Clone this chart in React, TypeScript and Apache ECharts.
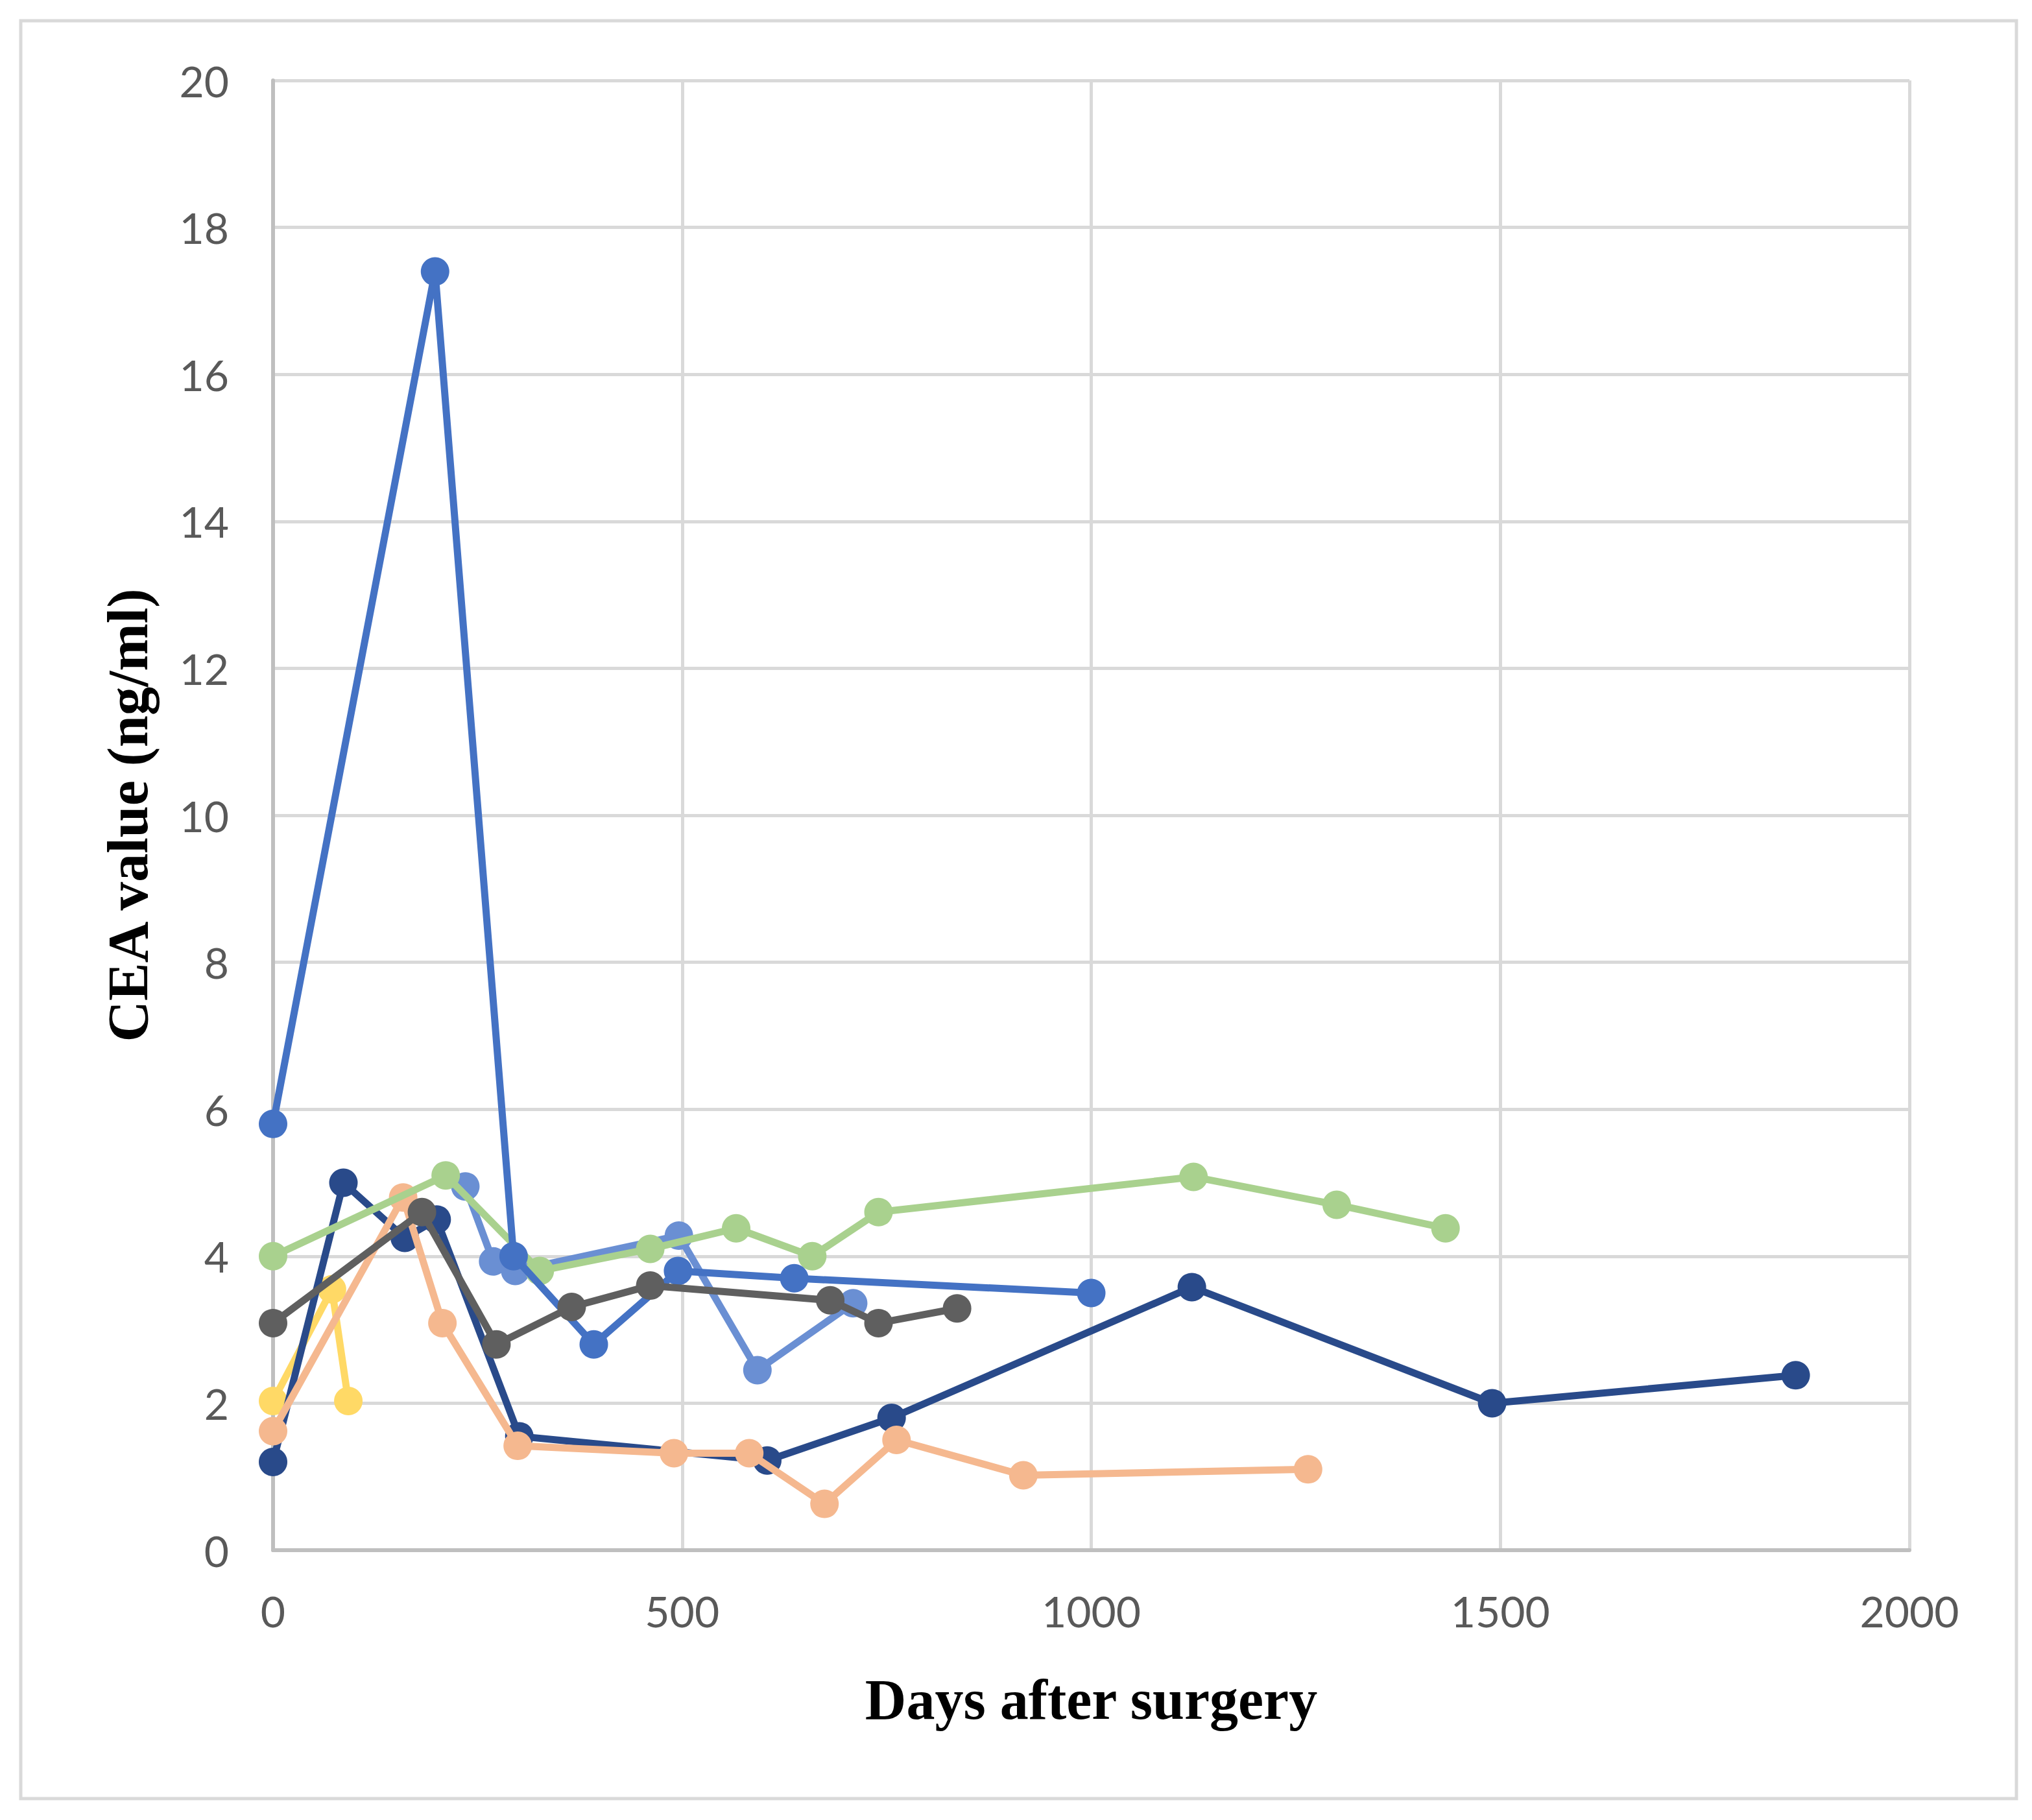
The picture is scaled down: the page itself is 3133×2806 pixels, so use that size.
import React, { useEffect, useRef } from "react";
import * as echarts from "echarts";

// Days after surgery / CEA values (ng/ml) per patient series
const yellowDays = [0, 72, 92];
const yellowVals = [2.03, 3.55, 2.03];

const lightBlueDays = [235, 269, 296, 496, 592, 709];
const lightBlueVals = [4.95, 3.93, 3.8, 4.28, 2.45, 3.36];

const darkBlueDays = [0, 86, 161, 200, 301, 604, 756, 1123, 1490, 1861];
const darkBlueVals = [1.2, 5.0, 4.25, 4.5, 1.55, 1.22, 1.8, 3.58, 2.0, 2.38];

const peachDays = [0, 159, 207, 299, 490, 582, 674, 762, 917, 1265];
const peachVals = [1.62, 4.8, 3.09, 1.42, 1.32, 1.32, 0.63, 1.5, 1.02, 1.1];

const greenDays = [0, 211, 326, 461, 566, 659, 740, 1125, 1300, 1433];
const greenVals = [4.0, 5.1, 3.8, 4.1, 4.38, 4.0, 4.6, 5.08, 4.7, 4.38];

const blueDays = [0, 198, 294, 392, 495, 637, 1000];
const blueVals = [5.8, 17.4, 4.0, 2.8, 3.8, 3.7, 3.5];

const grayDays = [0, 182, 273, 365, 461, 681, 740, 836];
const grayVals = [3.09, 4.6, 2.8, 3.31, 3.6, 3.4, 3.09, 3.29];

const xTicks = [0, 500, 1000, 1500, 2000];
const yTicks = [0, 2, 4, 6, 8, 10, 12, 14, 16, 18, 20];

const seriesDefs = [
  { name: "Patient G", days: yellowDays, vals: yellowVals, color: "#FFD966" },
  { name: "Patient B", days: lightBlueDays, vals: lightBlueVals, color: "#6A8FD3" },
  { name: "Patient C", days: darkBlueDays, vals: darkBlueVals, color: "#294A8A" },
  { name: "Patient D", days: peachDays, vals: peachVals, color: "#F5B88F" },
  { name: "Patient E", days: greenDays, vals: greenVals, color: "#A9D18E" },
  { name: "Patient A", days: blueDays, vals: blueVals, color: "#4472C4" },
  { name: "Patient F", days: grayDays, vals: grayVals, color: "#5F5F5F" },
];

export default function App() {
  const ref = useRef<HTMLDivElement>(null);

  useEffect(() => {
    document.body.style.margin = "0";
    if (!ref.current) return;
    const chart = echarts.init(ref.current, null, { renderer: "svg" });
    const labelFont = { fontFamily: "Lato", fontSize: 66, color: "#595959" };
    const titleFont = {
      fontFamily: "Liberation Serif",
      fontSize: 88,
      fontWeight: "bold" as const,
      color: "#000000",
    };
    chart.setOption({
      animation: false,
      backgroundColor: "#ffffff",
      grid: { left: 421, top: 124, right: 189, bottom: 416, containLabel: false },
      graphic: [
        {
          type: "rect",
          z: -10,
          shape: { x: 32, y: 32, width: 3077, height: 2741 },
          style: { fill: "none", stroke: "#D9D9D9", lineWidth: 5 },
          silent: true,
        },
      ],
      xAxis: {
        type: "value",
        min: xTicks[0],
        max: xTicks[xTicks.length - 1],
        interval: 500,
        name: "Days after surgery",
        nameLocation: "middle",
        nameGap: 186,
        nameTextStyle: titleFont,
        axisLine: { show: true, lineStyle: { color: "#BFBFBF", width: 6 } },
        axisTick: { show: false },
        axisLabel: { ...labelFont, margin: 60, formatter: (v: number) => String(v) },
        splitLine: { show: true, lineStyle: { color: "#D9D9D9", width: 5 } },
      },
      yAxis: {
        type: "value",
        min: yTicks[0],
        max: yTicks[yTicks.length - 1],
        interval: 2,
        name: "CEA value (ng/ml)",
        nameLocation: "middle",
        nameGap: 180,
        nameTextStyle: titleFont,
        axisLine: { show: true, lineStyle: { color: "#BFBFBF", width: 6 } },
        axisTick: { show: false },
        axisLabel: { ...labelFont, margin: 68, formatter: (v: number) => String(v) },
        splitLine: { show: true, lineStyle: { color: "#D9D9D9", width: 5 } },
      },
      series: seriesDefs.map((s, i) => ({
        name: s.name,
        type: "line",
        z: 3 + i,
        data: s.days.map((d, j) => [d, s.vals[j]]),
        symbol: "circle",
        symbolSize: 44,
        showSymbol: true,
        lineStyle: { color: s.color, width: 11 },
        itemStyle: { color: s.color, borderWidth: 0 },
        emphasis: { disabled: true },
      })),
    });
    return () => chart.dispose();
  }, []);

  return (
    <div
      ref={ref}
      style={{ position: "absolute", left: 0, top: 0, width: 3133, height: 2806 }}
    />
  );
}
